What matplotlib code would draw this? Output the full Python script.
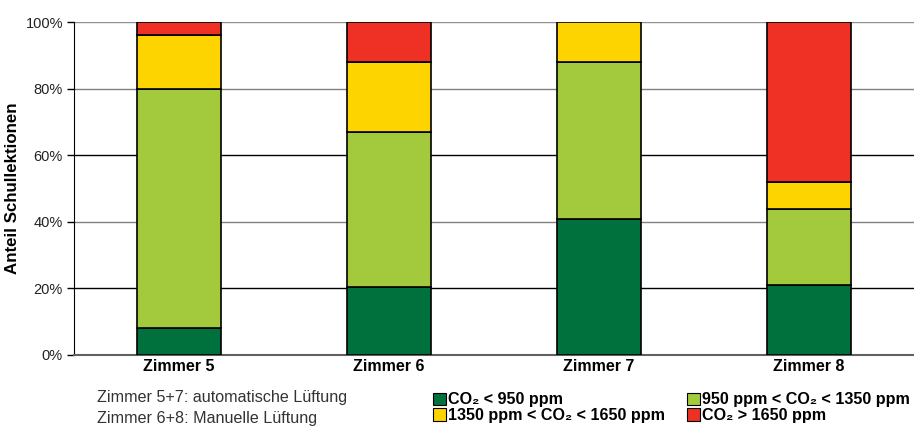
import matplotlib.pyplot as plt
from matplotlib.patches import Patch
import numpy as np

plt.rcParams['font.family'] = ['Liberation Sans', 'DejaVu Sans']

categories = ["Zimmer 5", "Zimmer 6", "Zimmer 7", "Zimmer 8"]
series_names = ["CO\u2082 < 950 ppm", "950 ppm < CO\u2082 < 1350 ppm",
                "1350 ppm < CO\u2082 < 1650 ppm", "CO\u2082 > 1650 ppm"]
co2_lt_950 = [8, 20.5, 41, 21]
co2_950_1350 = [72, 46.5, 47, 23]
co2_1350_1650 = [16, 21, 12, 8]
co2_gt_1650 = [4, 12, 0, 48]
colors = ["#00703C", "#A2CA3C", "#FDD300", "#EE3124"]
yticks = [0, 20, 40, 60, 80, 100]
ytick_labels = ["0%", "20%", "40%", "60%", "80%", "100%"]

fig = plt.figure(figsize=(9.14, 4.26), dpi=100)
ax = fig.add_axes([0.081, 0.1667, 0.919, 0.7813])

x = np.arange(len(categories))
series = [co2_lt_950, co2_950_1350, co2_1350_1650, co2_gt_1650]
bottom = np.zeros(len(categories))
for vals, col, name in zip(series, colors, series_names):
    v = np.array(vals, dtype=float)
    mask = v > 0
    ax.bar(x[mask], v[mask], bottom=bottom[mask], width=0.4, color=col,
           edgecolor="black", linewidth=1.2, label=name, zorder=3)
    bottom += v

ax.set_xlim(-0.5, 3.5)
ax.set_ylim(0, 100)
ax.set_yticks(yticks)
ax.set_yticklabels(ytick_labels, fontsize=10.5, color="#222222")
ax.set_xticks(x)
ax.set_xticklabels(categories, fontsize=11.5, fontweight="bold")
ax.tick_params(axis="x", length=0, pad=3)
ax.tick_params(axis="y", length=5, width=1, direction="out", pad=3)

grid_cols = {20: "black", 40: "#808080", 60: "black", 80: "#808080", 100: "#909090"}
for yv, c in grid_cols.items():
    ax.axhline(yv, color=c, linewidth=1, zorder=1)

for s in ["top", "right"]:
    ax.spines[s].set_visible(False)
ax.spines["left"].set_color("black")
ax.spines["bottom"].set_color("#606060")
ax.spines["bottom"].set_linewidth(1.5)

ax.set_ylabel("Anteil Schullektionen", fontsize=12.2, fontweight="bold", labelpad=4)

fig.text(0.106, 0.066, "Zimmer 5+7: automatische Lüftung", fontsize=11.6,
         color="#333333", va="center", ha="left")
fig.text(0.106, 0.018, "Zimmer 6+8: Manuelle Lüftung", fontsize=11.6,
         color="#333333", va="center", ha="left")

handles = [Patch(facecolor=c, edgecolor="black", linewidth=0.8) for c in colors]
order = [0, 2, 1, 3]
fig.legend([handles[i] for i in order], [series_names[i] for i in order],
           ncol=2, loc="lower left", bbox_to_anchor=(0.461, -0.02),
           frameon=False, handlelength=0.8, handleheight=0.8,
           handletextpad=0.15, columnspacing=1.35, labelspacing=0.05,
           borderpad=0.2, prop={"size": 11.6, "weight": "bold"})

fig.savefig("out.png", dpi=100)
